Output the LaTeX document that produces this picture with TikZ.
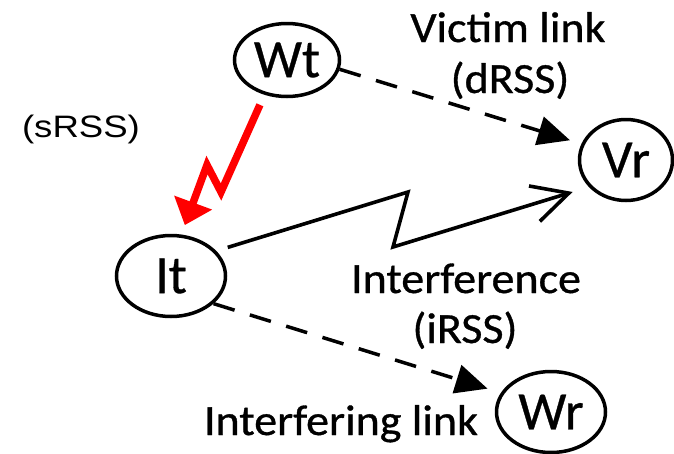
\documentclass[tikz,border=0pt]{standalone}
\usepackage{fontspec}
\setmainfont{Carlito}[FakeBold=0.6]
\newfontfamily\lblfont[FakeStretch=1.07,FakeBold=0.8]{Carlito}
\newfontfamily\arialfont[FakeStretch=1.18]{Liberation Sans}
\usetikzlibrary{shapes.geometric,arrows.meta,calc}
\begin{document}
\begin{tikzpicture}[x=1pt,y=-1pt,
  station/.style={ellipse, draw, line width=3.5pt, inner sep=0pt,
    font=\fontsize{54pt}{60pt}\selectfont},
  lab/.style={font=\lblfont\fontsize{43pt}{48pt}\selectfont, anchor=base, inner sep=0pt},
  dasharrow/.style={line width=3.5pt, dash pattern=on 22pt off 16pt,
    -{Triangle[length=32pt,width=29pt]}},
  redlink/.style={draw=red, line width=7.5pt, line join=miter,
    -{Triangle[length=24pt,width=39pt]}},
  zap/.style={line width=3.6pt, line join=miter,
    -{Straight Barb[length=36pt,width=37pt]}}]
\useasboundingbox (0,0) rectangle (674,453);

\node[station, minimum width=105pt, minimum height=73pt] (Wt) at (287,60) {Wt};
\node[station, minimum width=109pt, minimum height=81pt] (It) at (171,276) {It};
\node[station, minimum width=93pt, minimum height=81pt] (Vr) at (626,160) {Vr};
\node[station, minimum width=109pt, minimum height=81pt] (Wr) at (551,412) {Wr};

\node[lab] (victim) at (508,42) {Victim link};
\node[lab] (drss) at (510,93) {(dRSS)};
\node[lab] (interf) at (466,293) {Interference};
\node[lab] (irss) at (465,343) {(iRSS)};
\node[lab] (interfl) at (341,435) {Interfering link};
\node[font=\arialfont\fontsize{31pt}{36pt}\selectfont, anchor=base, inner sep=0pt] (srss) at (81,137) {(sRSS)};

\coordinate (z1) at (221,192);
\coordinate (z2) at (207,165);
\coordinate (l1) at (408,192);
\coordinate (l2) at (393,247);

\draw[dasharrow, shorten >=12pt] (Wt.-10) -- (Vr.160);
\draw[dasharrow, shorten >=14pt] (It.-33) -- (Wr.159);
\draw[redlink, shorten <=11pt, shorten >=10pt] (Wt.237) -- (z1) -- (z2) -- (It.76);
\draw[zap, shorten <=12pt, shorten >=17pt] (It.29) -- (l1) -- (l2) -- (Vr.216);
\end{tikzpicture}
\end{document}
